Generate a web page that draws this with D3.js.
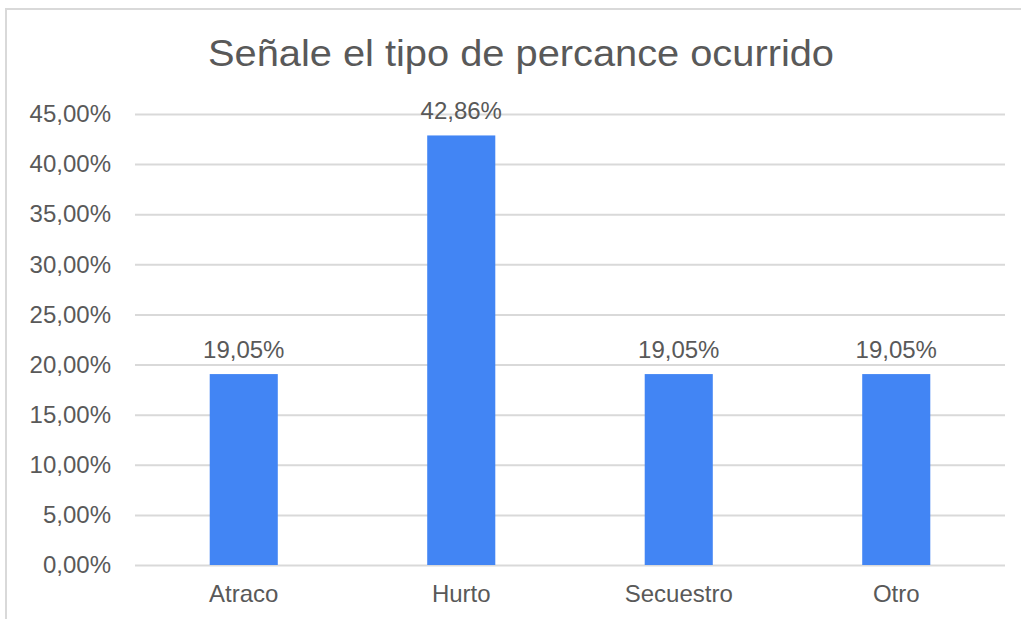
<!DOCTYPE html>
<html>
<head>
<meta charset="utf-8">
<script src="https://cdn.jsdelivr.net/npm/d3@7"></script>
<style>
  body { margin: 0; background: #fff; }
  text { font-family: "Liberation Sans", Arial, sans-serif; fill: #595959; }
</style>
</head>
<body>
<svg id="chart" width="1021" height="619"></svg>
<script>
// chart data
const categories = ['Atraco', 'Hurto', 'Secuestro', 'Otro'];
const values = [19.05, 42.86, 19.05, 19.05];
const yTicks = [0, 5, 10, 15, 20, 25, 30, 35, 40, 45];
const title = 'Señale el tipo de percance ocurrido';

const fmt = v => v.toFixed(2).replace('.', ',') + '%';

const svg = d3.select('#chart');
const plot = {left: 135, right: 1005, top: 114, bottom: 565};

// outer frame (only top and left edges are visible in the crop)
svg.append('path')
  .attr('d', 'M6,619 V9 H1021')
  .attr('fill', 'none')
  .attr('stroke', '#d9d9d9')
  .attr('stroke-width', 2);

svg.append('text')
  .attr('x', 521)
  .attr('y', 66)
  .attr('text-anchor', 'middle')
  .attr('font-size', 36)
  .attr('textLength', 626)
  .attr('lengthAdjust', 'spacingAndGlyphs')
  .text(title);

const x = d3.scaleBand()
  .domain(categories)
  .range([plot.left, plot.right])
  .paddingInner(0.687)
  .paddingOuter(0.3435);

const y = d3.scaleLinear()
  .domain([0, 45])
  .range([plot.bottom, plot.top]);

// gridlines + tick labels
const yAxis = svg.append('g')
  .attr('transform', `translate(${plot.left},0)`)
  .call(d3.axisLeft(y)
    .tickValues(yTicks)
    .tickSize(-(plot.right - plot.left))
    .tickPadding(24)
    .tickFormat(fmt));
yAxis.select('.domain').remove();
yAxis.selectAll('line')
  .attr('stroke', '#d9d9d9')
  .attr('stroke-width', 2);
yAxis.selectAll('text')
  .attr('font-size', 24)
  .attr('font-family', '"Liberation Sans", Arial, sans-serif')
  .attr('fill', '#595959');

// category labels
const xAxis = svg.append('g')
  .attr('transform', `translate(0,${plot.bottom})`)
  .call(d3.axisBottom(x).tickSize(0).tickPadding(20));
xAxis.select('.domain').remove();
xAxis.selectAll('text')
  .attr('font-size', 24)
  .attr('font-family', '"Liberation Sans", Arial, sans-serif')
  .attr('fill', '#595959');

// bars
svg.append('g')
  .selectAll('rect')
  .data(values)
  .join('rect')
    .attr('x', (d, i) => x(categories[i]))
    .attr('y', d => y(d))
    .attr('width', x.bandwidth())
    .attr('height', d => y(0) - y(d))
    .attr('fill', '#4285f4');

// value labels
svg.append('g')
  .selectAll('text')
  .data(values)
  .join('text')
    .attr('x', (d, i) => x(categories[i]) + x.bandwidth() / 2)
    .attr('y', d => y(d) - 16)
    .attr('text-anchor', 'middle')
    .attr('font-size', 24)
    .text(fmt);
</script>
</body>
</html>
